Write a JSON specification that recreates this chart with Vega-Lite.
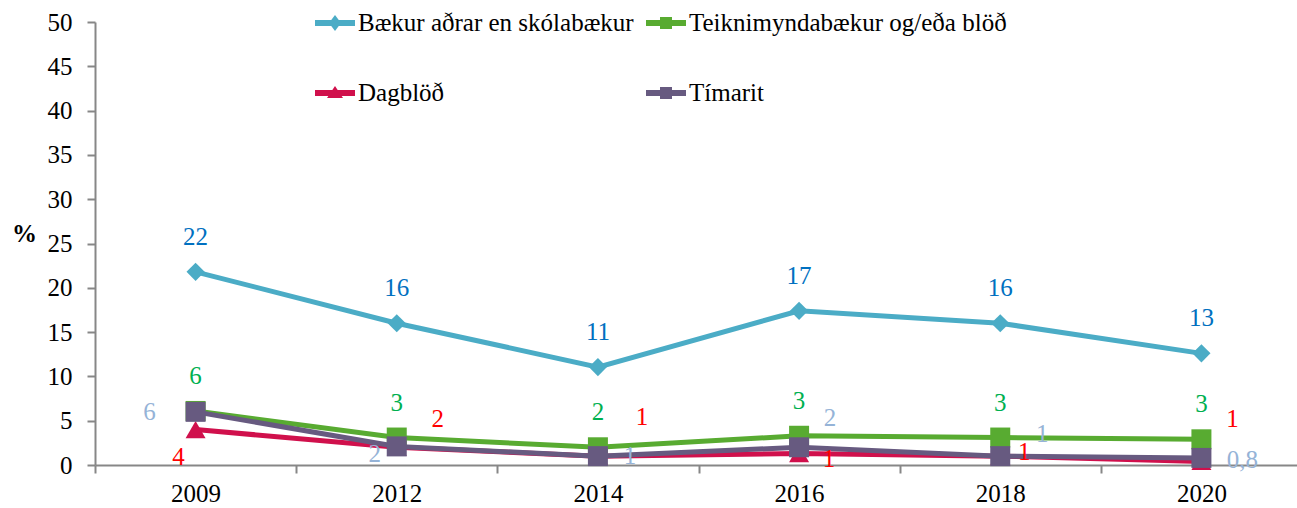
{
  "$schema": "https://vega.github.io/schema/vega-lite/v6.json",
  "width": 1207,
  "height": 443,
  "autosize": {"type": "none"},
  "padding": {"left": 95, "top": 22, "right": 0, "bottom": 43},
  "background": "white",
  "config": {
    "font": "Times New Roman",
    "view": {"stroke": null},
    "text": {"font": "Times New Roman"},
    "legend": {"labelFont": "Times New Roman"},
    "axis": {"grid": false, "domainColor": "#878787", "domainWidth": 2, "tickColor": "#878787", "tickWidth": 2, "tickSize": 8, "labelFont": "Times New Roman", "titleFont": "Times New Roman", "labelFontSize": 25, "labelColor": "black"}
  },
  "data": {
    "values": [
      {"series": "Bækur aðrar en skólabækur", "year": "2009", "value": 21.8, "label": "22"},
      {"series": "Bækur aðrar en skólabækur", "year": "2012", "value": 16.0, "label": "16"},
      {"series": "Bækur aðrar en skólabækur", "year": "2014", "value": 11.05, "label": "11"},
      {"series": "Bækur aðrar en skólabækur", "year": "2016", "value": 17.4, "label": "17"},
      {"series": "Bækur aðrar en skólabækur", "year": "2018", "value": 16.0, "label": "16"},
      {"series": "Bækur aðrar en skólabækur", "year": "2020", "value": 12.6, "label": "13"},
      {"series": "Teiknimyndabækur og/eða blöð", "year": "2009", "value": 6.1, "label": "6"},
      {"series": "Teiknimyndabækur og/eða blöð", "year": "2012", "value": 3.1, "label": "3"},
      {"series": "Teiknimyndabækur og/eða blöð", "year": "2014", "value": 2.0, "label": "2"},
      {"series": "Teiknimyndabækur og/eða blöð", "year": "2016", "value": 3.3, "label": "3"},
      {"series": "Teiknimyndabækur og/eða blöð", "year": "2018", "value": 3.1, "label": "3"},
      {"series": "Teiknimyndabækur og/eða blöð", "year": "2020", "value": 2.9, "label": "3"},
      {"series": "Dagblöð", "year": "2009", "value": 4.0, "label": "4"},
      {"series": "Dagblöð", "year": "2012", "value": 2.0, "label": "2"},
      {"series": "Dagblöð", "year": "2014", "value": 1.0, "label": "1"},
      {"series": "Dagblöð", "year": "2016", "value": 1.3, "label": "1"},
      {"series": "Dagblöð", "year": "2018", "value": 1.0, "label": "1"},
      {"series": "Dagblöð", "year": "2020", "value": 0.4, "label": "1"},
      {"series": "Tímarit", "year": "2009", "value": 6.0, "label": "6"},
      {"series": "Tímarit", "year": "2012", "value": 2.1, "label": "2"},
      {"series": "Tímarit", "year": "2014", "value": 1.0, "label": "1"},
      {"series": "Tímarit", "year": "2016", "value": 2.0, "label": "2"},
      {"series": "Tímarit", "year": "2018", "value": 1.0, "label": "1"},
      {"series": "Tímarit", "year": "2020", "value": 0.8, "label": "0,8"}
    ]
  },
  "encoding": {
    "x": {
      "field": "year", "type": "ordinal", "bandPosition": 0.5,
      "scale": {"type": "band", "paddingInner": 0, "paddingOuter": 0},
      "axis": {"title": null, "labelAngle": 0, "tickBand": "extent", "labelPadding": 8, "labelFont": "Times New Roman"}
    },
    "y": {
      "field": "value", "type": "quantitative",
      "scale": {"domain": [0, 50], "nice": false},
      "axis": {"values": [0, 5, 10, 15, 20, 25, 30, 35, 40, 45, 50], "labelPadding": 15, "labelFont": "Times New Roman", "title": "%", "titleAngle": 0, "titleFont": "Times New Roman", "titleFontSize": 25, "titleFontWeight": "bold", "titleColor": "black", "titleX": -71, "titleY": 211, "titleAlign": "center", "titleBaseline": "middle"}
    },
    "color": {"field": "series", "type": "nominal", "scale": {"domain": ["Bækur aðrar en skólabækur", "Teiknimyndabækur og/eða blöð", "Dagblöð", "Tímarit"], "range": ["#4BACC6", "#58AB31", "#D0104C", "#675A80"]},
      "legend": {"title": null, "orient": "none", "direction": "horizontal", "legendX": 220, "legendY": -19, "columns": 2, "symbolSize": 1600, "symbolStrokeWidth": 0, "labelFont": "Times New Roman", "labelFontSize": 25, "labelColor": "black", "labelOffset": 3, "columnPadding": 12, "rowPadding": 37, "labelLimit": 0, "padding": 0, "symbolOpacity": 1}}
  },
  "layer": [
    {
      "transform": [{"filter": "datum.series === 'Bækur aðrar en skólabækur'"}],
      "mark": {"type": "line", "strokeWidth": 5, "point": {"shape": "diamond", "size": 330, "filled": true, "opacity": 1}}
    },
    {
      "transform": [{"filter": "datum.series === 'Teiknimyndabækur og/eða blöð'"}],
      "mark": {"type": "line", "strokeWidth": 5, "point": {"shape": "square", "size": 400, "filled": true, "opacity": 1}}
    },
    {
      "transform": [{"filter": "datum.series === 'Dagblöð'"}],
      "mark": {"type": "line", "strokeWidth": 5, "point": {"shape": "triangle-up", "size": 400, "filled": true, "opacity": 1}}
    },
    {
      "transform": [{"filter": "datum.series === 'Tímarit'"}],
      "mark": {"type": "line", "strokeWidth": 5, "point": {"shape": "square", "size": 400, "filled": true, "opacity": 1}}
    },
    {
      "transform": [{"filter": "datum.series === 'Bækur aðrar en skólabækur'"}],
      "mark": {"type": "text", "dy": -35, "fontSize": 25, "font": "Times New Roman"},
      "encoding": {"text": {"field": "label"}, "color": {"value": "#0070C0"}}
    },
    {
      "transform": [{"filter": "datum.series === 'Teiknimyndabækur og/eða blöð'"}],
      "mark": {"type": "text", "dy": -35, "fontSize": 25, "font": "Times New Roman"},
      "encoding": {"text": {"field": "label"}, "color": {"value": "#00B050"}}
    },
    {
      "transform": [{"filter": "datum.series === 'Dagblöð' && datum.year === '2009'"}],
      "mark": {"type": "text", "dx": -17, "dy": 27, "fontSize": 25, "font": "Times New Roman"},
      "encoding": {"text": {"field": "label"}, "color": {"value": "#FF0000"}}
    },
    {
      "transform": [{"filter": "datum.series === 'Dagblöð' && datum.year === '2012'"}],
      "mark": {"type": "text", "dx": 41, "dy": -28, "fontSize": 25, "font": "Times New Roman"},
      "encoding": {"text": {"field": "label"}, "color": {"value": "#FF0000"}}
    },
    {
      "transform": [{"filter": "datum.series === 'Dagblöð' && datum.year === '2014'"}],
      "mark": {"type": "text", "dx": 44, "dy": -39, "fontSize": 25, "font": "Times New Roman"},
      "encoding": {"text": {"field": "label"}, "color": {"value": "#FF0000"}}
    },
    {
      "transform": [{"filter": "datum.series === 'Dagblöð' && datum.year === '2016'"}],
      "mark": {"type": "text", "dx": 30, "dy": 6, "fontSize": 25, "font": "Times New Roman"},
      "encoding": {"text": {"field": "label"}, "color": {"value": "#FF0000"}}
    },
    {
      "transform": [{"filter": "datum.series === 'Dagblöð' && datum.year === '2018'"}],
      "mark": {"type": "text", "dx": 24, "dy": -4, "fontSize": 25, "font": "Times New Roman"},
      "encoding": {"text": {"field": "label"}, "color": {"value": "#FF0000"}}
    },
    {
      "transform": [{"filter": "datum.series === 'Dagblöð' && datum.year === '2020'"}],
      "mark": {"type": "text", "dx": 31, "dy": -42, "fontSize": 25, "font": "Times New Roman"},
      "encoding": {"text": {"field": "label"}, "color": {"value": "#FF0000"}}
    },
    {
      "transform": [{"filter": "datum.series === 'Tímarit' && datum.year === '2009'"}],
      "mark": {"type": "text", "dx": -46, "dy": 0, "fontSize": 25, "font": "Times New Roman"},
      "encoding": {"text": {"field": "label"}, "color": {"value": "#95B3D7"}}
    },
    {
      "transform": [{"filter": "datum.series === 'Tímarit' && datum.year === '2012'"}],
      "mark": {"type": "text", "dx": -22, "dy": 8, "fontSize": 25, "font": "Times New Roman"},
      "encoding": {"text": {"field": "label"}, "color": {"value": "#95B3D7"}}
    },
    {
      "transform": [{"filter": "datum.series === 'Tímarit' && datum.year === '2014'"}],
      "mark": {"type": "text", "dx": 32, "dy": 0, "fontSize": 25, "font": "Times New Roman"},
      "encoding": {"text": {"field": "label"}, "color": {"value": "#95B3D7"}}
    },
    {
      "transform": [{"filter": "datum.series === 'Tímarit' && datum.year === '2016'"}],
      "mark": {"type": "text", "dx": 31, "dy": -29, "fontSize": 25, "font": "Times New Roman"},
      "encoding": {"text": {"field": "label"}, "color": {"value": "#95B3D7"}}
    },
    {
      "transform": [{"filter": "datum.series === 'Tímarit' && datum.year === '2018'"}],
      "mark": {"type": "text", "dx": 42, "dy": -22, "fontSize": 25, "font": "Times New Roman"},
      "encoding": {"text": {"field": "label"}, "color": {"value": "#95B3D7"}}
    },
    {
      "transform": [{"filter": "datum.series === 'Tímarit' && datum.year === '2020'"}],
      "mark": {"type": "text", "dx": 41, "dy": 2, "fontSize": 25, "font": "Times New Roman"},
      "encoding": {"text": {"field": "label"}, "color": {"value": "#95B3D7"}}
    },
    {
      "mark": {"type": "point", "filled": true, "opacity": 0, "size": 1},
      "encoding": {
        "shape": {"field": "series", "type": "nominal",
          "scale": {"domain": ["Bækur aðrar en skólabækur", "Teiknimyndabækur og/eða blöð", "Dagblöð", "Tímarit"],
            "range": ["M-1,-0.15L1,-0.15L1,0.15L-1,0.15Z M0,-0.4L0.3,0L0,0.4L-0.3,0Z", "M-1,-0.15L1,-0.15L1,0.15L-1,0.15Z M-0.3,-0.3L0.3,-0.3L0.3,0.3L-0.3,0.3Z", "M-1,-0.15L1,-0.15L1,0.15L-1,0.15Z M0,-0.35L0.4,0.25L-0.4,0.25Z", "M-1,-0.15L1,-0.15L1,0.15L-1,0.15Z M-0.3,-0.3L0.3,-0.3L0.3,0.3L-0.3,0.3Z"]},
          "legend": {"title": null, "orient": "none", "direction": "horizontal", "legendX": 220, "legendY": -19, "columns": 2, "symbolSize": 1600, "symbolStrokeWidth": 0, "labelFont": "Times New Roman", "labelFontSize": 25, "labelColor": "black", "labelOffset": 3, "columnPadding": 12, "rowPadding": 37, "labelLimit": 0, "padding": 0, "symbolOpacity": 1,
            "encode": {"symbols": {"update": {"opacity": {"value": 1}, "fillOpacity": {"value": 1}, "strokeWidth": {"value": 0}}}}}}
      }
    }
  ]
}
